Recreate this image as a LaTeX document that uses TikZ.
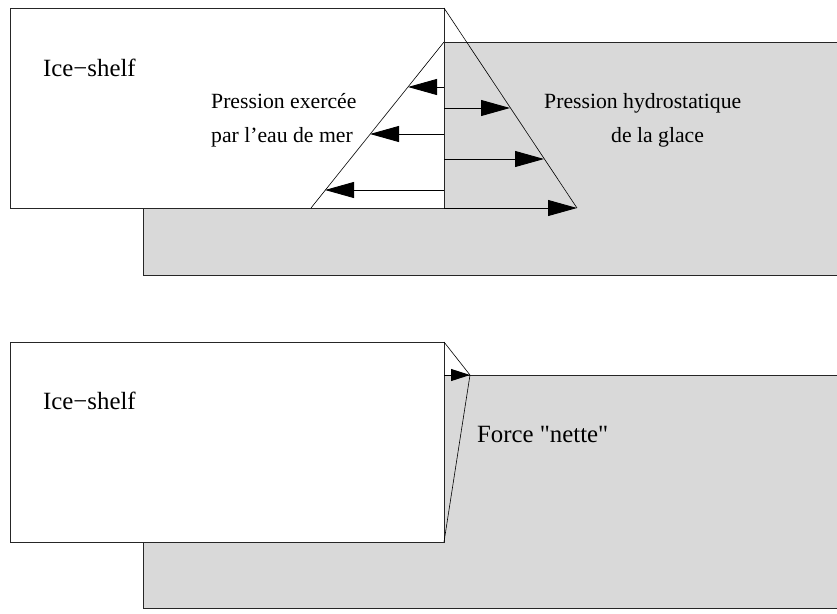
\documentclass[tikz,border=0pt]{standalone}
\usepackage{fontspec}
\setmainfont{Liberation Serif}
\usetikzlibrary{arrows.meta}
\definecolor{sea}{RGB}{217,217,217}
\tikzset{
  greybox/.style={fill=sea,draw=black!85,line width=0.9pt},
  icebox/.style={fill=white,draw=black!85,line width=0.9pt},
  thinline/.style={draw=black,line width=0.6pt},
  bigarrow/.style={draw=black,line width=0.9pt,-{Triangle[length=29pt,width=16pt]}},
  smallarrow/.style={draw=black,line width=0.9pt,-{Triangle[length=19pt,width=12pt]}},
  biglabel/.style={anchor=base west,inner sep=0pt,font=\fontsize{24.8}{28}\selectfont},
  smalllabel/.style={anchor=base west,inner sep=0pt,font=\fontsize{21.7}{26}\selectfont}
}
\begin{document}
\begin{tikzpicture}[x=1pt,y=-1pt]
\useasboundingbox (0,0) rectangle (837,613);
\clip (0,0) rectangle (837,613);
% ---------- top panel ----------
\draw[greybox] (143,42) rectangle (860,275);
\draw[icebox] (10,8) rectangle (444,208);
\coordinate (tA) at (444,8);
\coordinate (tB) at (577,208);
\coordinate (wA) at (444,42);
\coordinate (wB) at (311,208);
\draw[thinline] (tA) -- (tB);
\draw[thinline] (wA) -- (wB);
% left arrows (sea water pressure)
\coordinate (l1s) at (444,87);  \coordinate (l1e) at (408,87);
\coordinate (l2s) at (444,134); \coordinate (l2e) at (370,134);
\coordinate (l3s) at (444,190); \coordinate (l3e) at (325,190);
\draw[bigarrow] (l1s) -- (l1e);
\draw[bigarrow] (l2s) -- (l2e);
\draw[bigarrow] (l3s) -- (l3e);
% right arrows (ice hydrostatic pressure)
\coordinate (r1s) at (444,108); \coordinate (r1e) at (510,108);
\coordinate (r2s) at (444,159); \coordinate (r2e) at (544,159);
\coordinate (r3s) at (444,208); \coordinate (r3e) at (577,208);
\draw[bigarrow] (r1s) -- (r1e);
\draw[bigarrow] (r2s) -- (r2e);
\draw[bigarrow] (r3s) -- (r3e);
\node[biglabel] (ice1) at (43,76) {Ice−shelf};
\node[smalllabel] (pe1) at (211,108) {Pression exercée};
\node[smalllabel] (pe2) at (211,142) {par l’eau de mer};
\node[smalllabel] (ph1) at (544,108) {Pression hydrostatique};
\node[smalllabel] (ph2) at (611,142) {de la glace};
% ---------- bottom panel ----------
\draw[greybox] (143,375) rectangle (860,608);
\draw[icebox] (10,342) rectangle (444,542);
\coordinate (bA) at (444,342);
\coordinate (bT) at (470,375);
\coordinate (bB) at (444,542);
\coordinate (bS) at (444,375);
\draw[thinline] (bA) -- (bT) -- (bB);
\draw[smallarrow] (bS) -- (bT);
\node[biglabel] (ice2) at (43,409) {Ice−shelf};
\node[biglabel] (fn) at (477,442) {Force \textquotedbl nette\textquotedbl};
\end{tikzpicture}
\end{document}
